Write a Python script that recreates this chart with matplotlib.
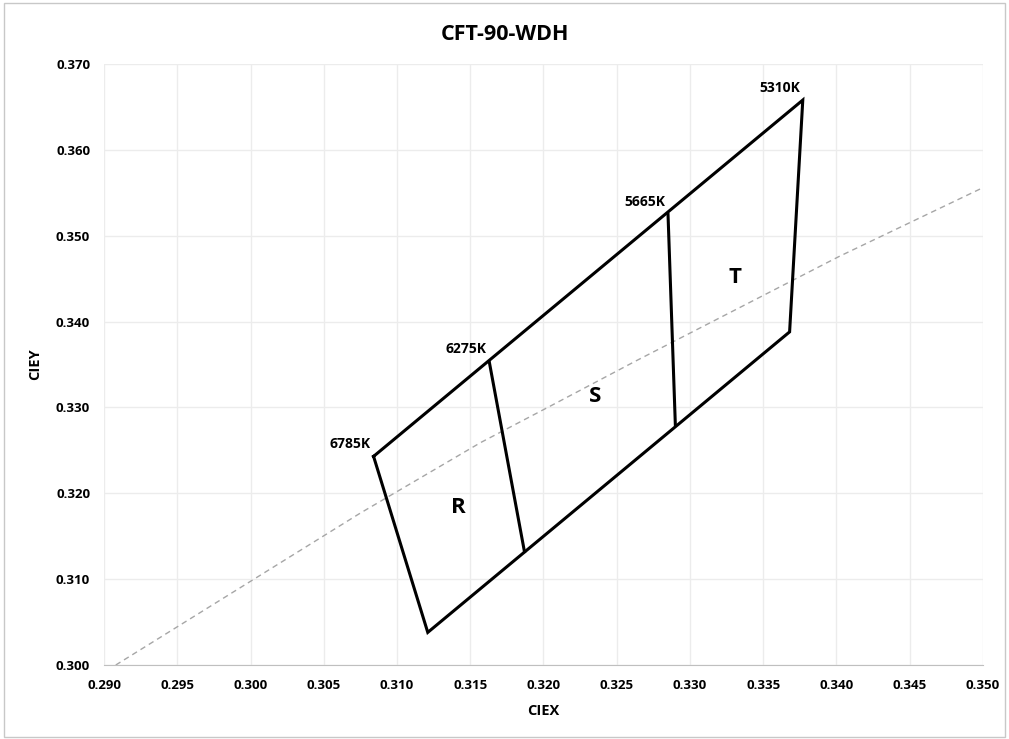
import matplotlib.pyplot as plt
from matplotlib.patches import Rectangle

plt.rcParams['font.family'] = ['Open Sans', 'DejaVu Sans']

# corner points of the bins (CIE x, y)
cct_names = ["6785K", "6275K", "5665K", "5310K"]
top_x = [0.3084, 0.3163, 0.3285, 0.3377]
top_y = [0.3243, 0.3353, 0.3525, 0.3658]
bot_x = [0.3121, 0.3187, 0.3290, 0.3368]
bot_y = [0.3038, 0.3132, 0.3280, 0.3388]

bin_names = ["R", "S", "T"]
bin_x = [0.3142, 0.3235, 0.3331]
bin_y = [0.3183, 0.3313, 0.3451]

# dashed reference curve (black body locus)
ref_x = [0.2908, 0.3075, 0.3157, 0.3204, 0.3264, 0.3402, 0.3500]
ref_y = [0.3000, 0.3177, 0.3259, 0.3301, 0.3355, 0.3476, 0.3556]

fig = plt.figure(figsize=(10.09, 7.39), dpi=100)
fig.patches.append(Rectangle((0.004, 0.003), 0.992, 0.993, transform=fig.transFigure,
                             fill=False, edgecolor='#c8c8c8', linewidth=1))
ax = fig.add_axes([0.1031, 0.1001, 0.8711, 0.8133])

ax.plot(ref_x, ref_y, linestyle=(0, (4, 3)), color='#a6a6a6', linewidth=1)

# outline: top edge, right edge, bottom edge back, left edge
ox = [top_x[0], top_x[-1], bot_x[-1], bot_x[0], top_x[0]]
oy = [top_y[0], top_y[-1], bot_y[-1], bot_y[0], top_y[0]]
ax.plot(ox, oy, color='black', linewidth=2.2, solid_joinstyle='miter')
for i in (1, 2):
    ax.plot([top_x[i], bot_x[i]], [top_y[i], bot_y[i]], color='black', linewidth=2.2)

for name, x, y in zip(cct_names, top_x, top_y):
    ax.annotate(name, (x, y), xytext=(-2, 4), textcoords='offset points',
                ha='right', va='bottom', fontsize=10, fontweight='bold')

for name, x, y in zip(bin_names, bin_x, bin_y):
    ax.text(x, y, name, ha='center', va='center', fontsize=16, fontweight='bold')

ax.set_xlim(0.290, 0.350)
ax.set_ylim(0.300, 0.370)
ax.set_xticks([0.290 + 0.005 * i for i in range(13)])
ax.set_yticks([0.300 + 0.010 * i for i in range(8)])
ax.xaxis.set_major_formatter(plt.FormatStrFormatter('%.3f'))
ax.yaxis.set_major_formatter(plt.FormatStrFormatter('%.3f'))
ax.tick_params(length=0, labelsize=9.5, pad=10)
for lab in ax.get_xticklabels() + ax.get_yticklabels():
    lab.set_fontweight('bold')
ax.grid(True, color='#ececec', linewidth=1)
ax.set_axisbelow(True)
for s in ['top', 'right', 'left']:
    ax.spines[s].set_visible(False)
ax.spines['bottom'].set_color('#bfbfbf')

ax.set_xlabel('CIEX', fontsize=10.5, fontweight='bold', labelpad=9)
ax.set_ylabel('CIEY', fontsize=10.5, fontweight='bold', labelpad=10)
fig.text(0.5, 0.953, 'CFT-90-WDH', ha='center', va='center', fontsize=15.5, fontweight='bold')

fig.savefig('out.png', dpi=100)
